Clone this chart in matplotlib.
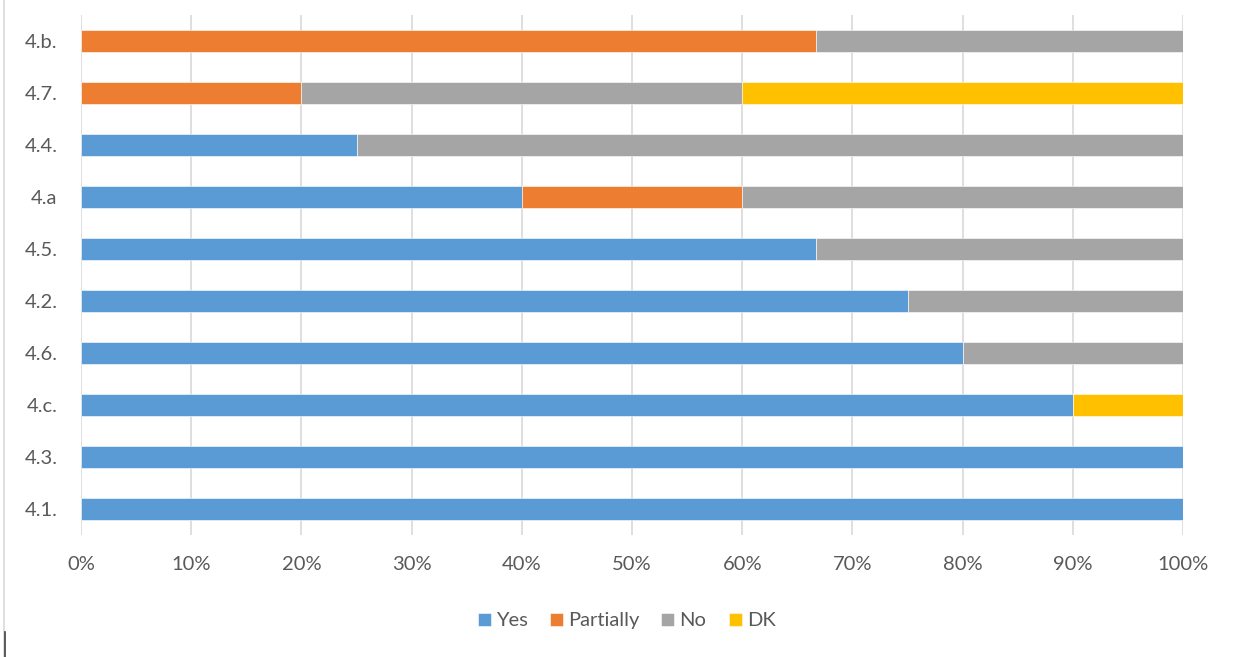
import matplotlib.pyplot as plt
import numpy as np
from matplotlib.lines import Line2D
from matplotlib.ticker import PercentFormatter

# categories from bottom to top
categorias = ["4.1.", "4.3.", "4.c.", "4.6.", "4.2.", "4.5.", "4.a", "4.4.", "4.7.", "4.b."]
yes = [100, 100, 90, 80, 75, 66.7, 40, 25, 0, 0]
partially = [0, 0, 0, 0, 0, 0, 20, 0, 20, 66.7]
no = [0, 0, 0, 20, 25, 33.3, 40, 75, 40, 33.3]
dk = [0, 0, 10, 0, 0, 0, 0, 0, 40, 0]

series = [("Yes", yes, "#5B9BD5"), ("Partially", partially, "#ED7D31"),
          ("No", no, "#A5A5A5"), ("DK", dk, "#FFC000")]

plt.rcParams["font.family"] = ["Lato", "DejaVu Sans"]
cor_texto = "#595959"

fig = plt.figure(figsize=(12.38, 6.57), dpi=100)
ax = fig.add_axes([81 / 1238, 1 - 535 / 657, 1102 / 1238, 520 / 657])

y = np.arange(len(categorias))
base = np.zeros(len(categorias))
for nome, valores, cor in series:
    valores = np.array(valores, dtype=float)
    ax.barh(y, valores, left=base, height=0.42, color=cor, label=nome,
            edgecolor="white", linewidth=0.4, zorder=3)
    base += valores

ax.set_xlim(0, 100)
ax.set_ylim(-0.5, len(categorias) - 0.5)
ax.set_xticks(np.arange(0, 101, 10))
ax.xaxis.set_major_formatter(PercentFormatter(decimals=0))
ax.set_yticks(y)
ax.set_yticklabels(categorias)
ax.tick_params(length=0, labelsize=14.5, colors=cor_texto)
ax.tick_params(axis="x", pad=15)
ax.tick_params(axis="y", pad=17)
ax.grid(axis="x", color="#D9D9D9", linewidth=1.2, zorder=0)
for s in ax.spines.values():
    s.set_visible(False)

ax.legend(loc="center", bbox_to_anchor=(0.495, -0.165), ncol=4, frameon=False,
          fontsize=14.5, labelcolor=cor_texto, handlelength=0.65, handleheight=0.65,
          handletextpad=0.25, columnspacing=1.1)

# bordas que aparecem na imagem original
fig.add_artist(Line2D([4 / 1238, 4 / 1238], [0, 1], color="#D9D9D9", linewidth=1.2))
fig.add_artist(Line2D([5 / 1238, 5 / 1238], [0, 25 / 657], color="#404040", linewidth=1.2))

fig.savefig("out.png", dpi=100)
